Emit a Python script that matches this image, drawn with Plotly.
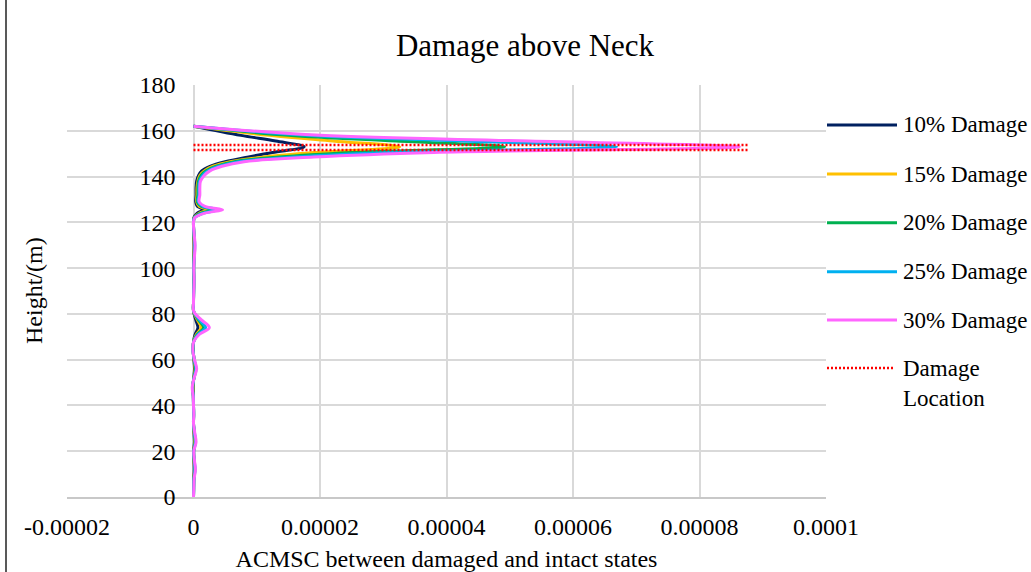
import plotly.graph_objects as go

# ---------------- data ----------------
heights = [0, 4, 8, 12, 16, 20, 24, 28, 32, 36, 40, 44, 48, 52, 56, 60, 64, 68, 71, 74,
           77.5, 81, 85, 90, 95, 100, 105, 110, 115, 120,
           122, 124, 125.5, 127, 129, 132, 135, 138, 140.5, 142.5, 144.5, 146.5, 148.5,
           150.5, 153, 155.5, 158, 162]

UNIT = 1e-6  # values below are given in units of 1e-6

dmg10 = [0, 0.01, 0.03, 0.09, 0.05, 0.01, 0.12, 0.06, 0.0, 0.01, 0.0, -0.01, -0.06, 0.03, 0.15,
         0.05, -0.03, 0.01, 0.25, 0.7, 0.35, 0.01, 0.0, 0.01, 0.03, 0.01, 0.05, 0.07, 0.03, 0.0,
         0.05, 0.6, 1.6, 0.6, 0.35, 0.4, 0.4, 0.5, 0.8, 1.3, 2.6, 5.0, 8.5, 12.5, 17.5, 13.0, 7.5, 0]
dmg15 = [0, 0.02, 0.05, 0.15, 0.08, 0.02, 0.2, 0.1, 0.0, 0.02, 0.0, -0.02, -0.1, 0.05, 0.25,
         0.08, -0.05, 0.02, 0.45, 1.2, 0.6, 0.02, 0.0, 0.02, 0.05, 0.02, 0.08, 0.12, 0.05, 0.0,
         0.1, 0.9, 2.3, 0.9, 0.5, 0.55, 0.55, 0.7, 1.0, 1.7, 3.1, 5.8, 11.0, 19.0, 32.6, 22.0, 12.0, 0]
dmg20 = [0, 0.03, 0.06, 0.2, 0.1, 0.03, 0.26, 0.13, 0.0, 0.03, 0.0, -0.03, -0.13, 0.06, 0.32,
         0.1, -0.06, 0.03, 0.6, 1.6, 0.75, 0.03, 0.0, 0.03, 0.06, 0.03, 0.1, 0.16, 0.06, 0.0,
         0.13, 1.2, 3.0, 1.2, 0.6, 0.7, 0.7, 0.8, 1.2, 2.0, 3.6, 6.5, 13.5, 25.0, 49.2, 32.0, 15.0, 0]
dmg25 = [0, 0.04, 0.08, 0.24, 0.12, 0.04, 0.32, 0.16, 0.0, 0.04, 0.0, -0.04, -0.16, 0.08, 0.4,
         0.12, -0.08, 0.04, 0.7, 1.9, 0.9, 0.04, 0.0, 0.04, 0.08, 0.04, 0.12, 0.2, 0.08, 0.0,
         0.16, 1.5, 3.8, 1.5, 0.75, 0.85, 0.85, 0.95, 1.45, 2.3, 4.0, 7.2, 16.0, 31.0, 66.9, 42.5, 18.0, 0]
dmg30 = [0, 0.05, 0.1, 0.3, 0.15, 0.05, 0.4, 0.2, 0.0, 0.05, 0.0, -0.05, -0.2, 0.1, 0.5,
         0.15, -0.1, 0.05, 0.9, 2.5, 1.2, 0.05, 0.0, 0.05, 0.1, 0.05, 0.15, 0.25, 0.1, 0.0,
         0.2, 1.8, 4.6, 1.8, 0.9, 1.0, 1.0, 1.1, 1.7, 2.6, 4.5, 8.0, 19.0, 38.0, 86.3, 53.0, 20.0, 0]

series_names = ["10% Damage", "15% Damage", "20% Damage", "25% Damage", "30% Damage"]
series_values = [dmg10, dmg15, dmg20, dmg25, dmg30]
series_colors = ["#002060", "#FFC000", "#00B050", "#00B0F0", "#FF66FF"]

damage_loc_heights = [151.6, 153.8]
damage_loc_extent = [0, 8.79e-5]
damage_loc_name = "Damage<br>Location"

x_tickvals = [-0.00002, 0, 0.00002, 0.00004, 0.00006, 0.00008, 0.0001]
x_ticktext = ["-0.00002", "0", "0.00002", "0.00004", "0.00006", "0.00008", "0.0001"]
y_tickvals = [0, 20, 40, 60, 80, 100, 120, 140, 160, 180]

title_text = "Damage above Neck"
x_title = "ACMSC between damaged and intact states"
y_title = "Height/(m)"

# ---------------- figure ----------------
FONT = "Liberation Serif"
W, H = 1031, 572
ML, MR, MT, MB = 67, 205, 85, 75
PW = W - ML - MR
PH = H - MT - MB

fig = go.Figure()
for name, vals, col in zip(series_names, series_values, series_colors):
    fig.add_trace(go.Scatter(
        x=[v * UNIT for v in vals], y=heights, mode="lines", name=name,
        line=dict(color=col, width=3, shape="spline", smoothing=1),
        showlegend=False))

dx, dy = [], []
for hgt in damage_loc_heights:
    dx += [damage_loc_extent[0], damage_loc_extent[1], None]
    dy += [hgt, hgt, None]
fig.add_trace(go.Scatter(x=dx, y=dy, mode="lines", name="Damage Location",
                         line=dict(color="#FF0000", width=2.5, dash="2px,2px"),
                         showlegend=False))

xr = [x_tickvals[0], x_tickvals[-1]]
zero_pos = (0 - xr[0]) / (xr[1] - xr[0])

fig.update_layout(
    width=W, height=H, autosize=False,
    margin=dict(l=ML, r=MR, t=MT, b=MB, pad=0, autoexpand=False),
    paper_bgcolor="white", plot_bgcolor="white",
    font=dict(family=FONT, size=24, color="#000000"),
    title=dict(text=title_text, x=525 / W, xanchor="center", xref="container",
               y=1 - 45 / H, yanchor="middle", yref="container", automargin=False,
               font=dict(family=FONT, size=31, color="#000000")),
    xaxis=dict(range=xr, tickvals=x_tickvals, ticktext=x_ticktext, automargin=False,
               showgrid=True, gridcolor="#D9D9D9", gridwidth=2,
               zeroline=False, showline=True, linecolor="#C8C8C8", linewidth=2,
               ticks="", ticklabelstandoff=7,
               tickfont=dict(family=FONT, size=24, color="#000000"),
               title=dict(text=x_title, standoff=11,
                          font=dict(family=FONT, size=24, color="#000000"))),
    yaxis=dict(range=[0, 180], tickvals=y_tickvals, automargin=False,
               anchor="free", position=zero_pos, side="left",
               showgrid=True, gridcolor="#D9D9D9", gridwidth=2,
               zeroline=False, showline=False, ticks="", ticklabelstandoff=18,
               tickfont=dict(family=FONT, size=24, color="#000000")),
)

# y-axis title
fig.add_annotation(text=y_title, textangle=-90, xref="paper", yref="paper",
                   x=(34 - ML) / PW, y=(H - MB - 291) / PH, xanchor="center", yanchor="middle",
                   showarrow=False, font=dict(family=FONT, size=24, color="#000000"))

# custom legend
def px_x(px):
    return (px - ML) / PW

def px_y(py):
    return (H - MB - py) / PH

LEG_FONT = 23
leg_rows = [125, 174, 222.7, 271.7, 320]
for name, col, py in zip(series_names, series_colors, leg_rows):
    fig.add_shape(type="line", xref="paper", yref="paper",
                  x0=px_x(827), x1=px_x(897), y0=px_y(py), y1=px_y(py),
                  line=dict(color=col, width=3))
    fig.add_annotation(text=name, xref="paper", yref="paper", x=px_x(901), y=px_y(py),
                       xanchor="left", yanchor="middle", showarrow=False,
                       font=dict(family=FONT, size=LEG_FONT, color="#000000"))
fig.add_shape(type="line", xref="paper", yref="paper",
              x0=px_x(827), x1=px_x(893), y0=px_y(368), y1=px_y(368),
              line=dict(color="#FF0000", width=2.5, dash="2px,2px"))
fig.add_annotation(text=damage_loc_name, xref="paper", yref="paper", x=px_x(901), y=px_y(383),
                   xanchor="left", yanchor="middle", align="left", showarrow=False,
                   font=dict(family=FONT, size=LEG_FONT, color="#000000"))

# chart-area frame (left edge)
fig.add_shape(type="line", xref="paper", yref="paper",
              x0=px_x(6), x1=px_x(6), y0=px_y(-5), y1=px_y(H + 5),
              line=dict(color="#595959", width=2))

fig.write_html("out.html")
